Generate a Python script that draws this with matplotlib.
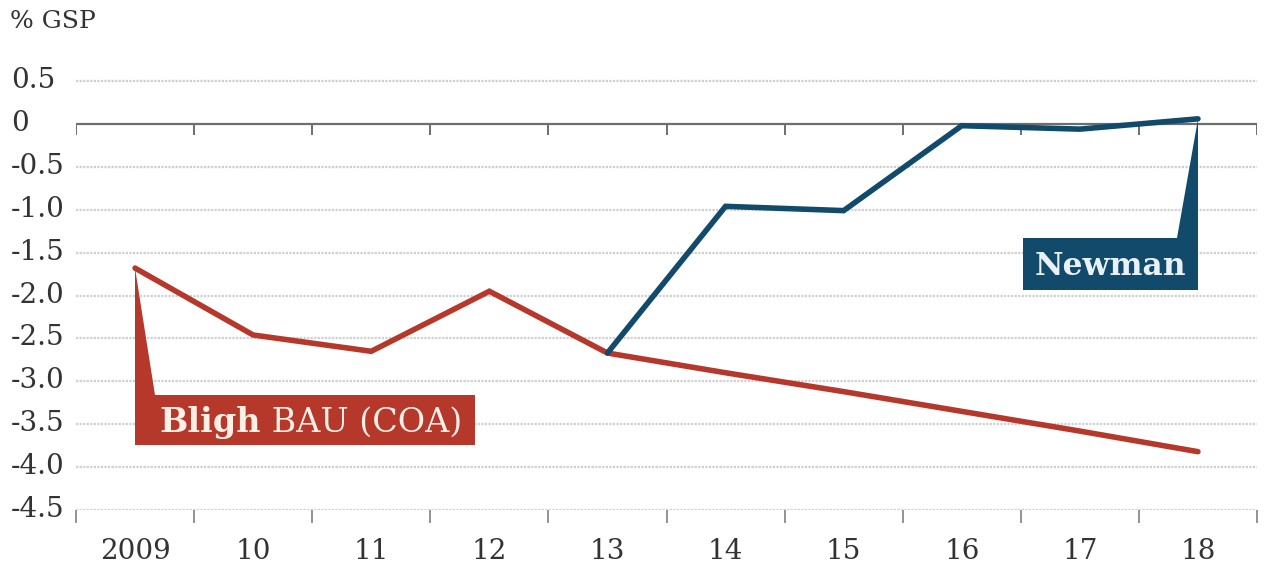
import matplotlib
matplotlib.use("Agg")
import matplotlib.pyplot as plt
import matplotlib.patches as mpatches
import numpy as np

# ---------------------------------------------------------------------------
# data
# ---------------------------------------------------------------------------
years = ["2009", "10", "11", "12", "13", "14", "15", "16", "17", "18"]
bligh = [-1.68, -2.46, -2.65, -1.95, -2.67, -2.90, -3.12, -3.35, -3.58, -3.82]
newman_years = ["13", "14", "15", "16", "17", "18"]
newman = [-2.67, -0.96, -1.01, -0.02, -0.06, 0.06]
yticks = [0.5, 0, -0.5, -1.0, -1.5, -2.0, -2.5, -3.0, -3.5, -4.0, -4.5]
ytick_labels = ["0.5", "0", "-0.5", "-1.0", "-1.5", "-2.0", "-2.5",
                "-3.0", "-3.5", "-4.0", "-4.5"]

RED = "#B5382B"
BLUE = "#114A6B"
GRID = "#D0D0D0"
TXT = "#333333"
FONT = "DejaVu Serif"

plt.rcParams["font.family"] = FONT

fig = plt.figure(figsize=(12.71, 5.74), dpi=100)
W, H = 1271, 574
ylo, yhi = -4.5, 0.8
ax = fig.add_axes([76 / W, (H - 510) / H, (1257 - 76) / W,
                   (510 - (124 - 0.8 * 85.8)) / H])

x = np.arange(len(years))
xn = np.array([years.index(y) for y in newman_years])

ax.set_xlim(-0.5, len(years) - 0.5)
ax.set_ylim(ylo, yhi)
for s in ax.spines.values():
    s.set_visible(False)

# gridlines: dotted, zero line solid
for v in yticks:
    if v == 0:
        ax.axhline(v, color="#6E6E6E", lw=1.6, zorder=1)
    else:
        ax.axhline(v, color=GRID, lw=1.6, ls=(0, (1, 0.6)), zorder=1)

# tick marks at category boundaries on the zero line and the bottom line
bounds = np.arange(len(years) + 1) - 0.5
ax.vlines(bounds, 0, -0.13, color="#6E6E6E", lw=1.4, zorder=1)

ax.set_xticks(x)
ax.set_xticklabels(years, fontsize=20, color=TXT)
ax.set_xticks(bounds, minor=True)
ax.tick_params(axis="x", which="major", length=0, pad=20)
ax.tick_params(axis="x", which="minor", length=9, width=1.3,
               color="#8A8A8A", direction="out")

ax.set_yticks(yticks)
ax.set_yticklabels(ytick_labels, fontsize=20, color=TXT, ha="left")
ax.tick_params(axis="y", length=0, pad=47)
for lbl in ax.get_yticklabels():
    lbl.set_y(lbl.get_position()[1])
    lbl.set_va("bottom")
    lbl.set_transform(lbl.get_transform() +
                      matplotlib.transforms.ScaledTranslation(0, -13 / 100,
                                                              fig.dpi_scale_trans))

# series
ax.plot(x, bligh, color=RED, lw=4.0, solid_capstyle="round",
        solid_joinstyle="miter", zorder=3)
ax.plot(xn, newman, color=BLUE, lw=4.0, solid_capstyle="round",
        solid_joinstyle="miter", zorder=4)

# Bligh callout
b_left, b_right, b_top, b_bot = 0.0, 2.88, -3.16, -3.74
ax.add_patch(mpatches.Rectangle((b_left, b_bot), b_right - b_left,
                                b_top - b_bot, color=RED, lw=0, zorder=5))
ax.fill([x[0], x[0], x[0] + 0.17], [bligh[0], b_top, b_top],
        color=RED, lw=0, zorder=5)
t1 = ax.text(b_left + 0.21, (b_top + b_bot) / 2 - 0.03, "Bligh",
             fontsize=24, fontweight="bold", color="#FBEFE6",
             va="center", ha="left", zorder=6)
ax.annotate(" BAU (COA)", xy=(1, 0), xycoords=t1, va="bottom", ha="left",
            fontsize=24, color="#FBEFE6", zorder=6)

# Newman callout
n_left, n_right, n_top, n_bot = 7.52, 9.0, -1.33, -1.93
ax.add_patch(mpatches.Rectangle((n_left, n_bot), n_right - n_left,
                                n_top - n_bot, color=BLUE, lw=0, zorder=5))
ax.fill([xn[-1], xn[-1], xn[-1] - 0.18], [newman[-1], n_top, n_top],
        color=BLUE, lw=0, zorder=5)
ax.text((n_left + n_right) / 2, (n_top + n_bot) / 2 - 0.03, "Newman",
        fontsize=22.5, fontweight="bold", color="#E8F1F6",
        va="center", ha="center", zorder=6)

fig.text(10 / W, 1 - 22 / H, "% GSP", fontsize=18, color=TXT,
         ha="left", va="center")

fig.savefig("out.png", dpi=100, facecolor="white")
